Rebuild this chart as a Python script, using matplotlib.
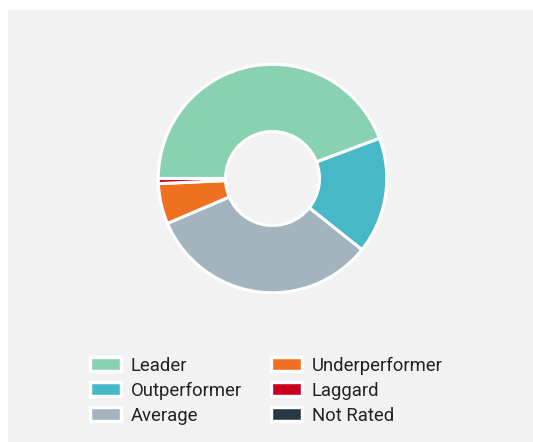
import matplotlib
matplotlib.use('Agg')
import matplotlib.pyplot as plt
from matplotlib.patches import Rectangle

## -- data
labels = ["Leader", "Outperformer", "Average", "Underperformer", "Laggard", "Not Rated"]
counts = [62, 23, 46, 8, 1, 0]
colors = ["#88d1b1", "#47b8c8", "#a3b4bf", "#f07022", "#c8001e", "#263840"]

W, H = 533, 442
fig = plt.figure(figsize=(W / 100, H / 100), dpi=100)
fig.patch.set_facecolor("white")

# gray panel behind everything
fig.patches.append(Rectangle((8 / W, 0), 1, 1 - 10 / H, transform=fig.transFigure,
                             facecolor="#f2f2f2", edgecolor="none", zorder=-1))

# donut: center (272.5, 178.5) px, radius 116 px
cx, cy, r = 272.5, 178.5, 116
ax = fig.add_axes([(cx - r) / W, (H - cy - r) / H, 2 * r / W, 2 * r / H])
ax.set_facecolor("none")
wedges, _ = ax.pie(counts, colors=colors, startangle=180, counterclock=False,
                   radius=0.985,
                   wedgeprops=dict(width=0.58, edgecolor="white", linewidth=2.2))
for w in wedges:
    w.set_clip_on(False)
ax.set_xlim(-1, 1)
ax.set_ylim(-1, 1)
ax.set_aspect("equal")
ax.axis("off")

## -- legend
plt.rcParams["font.family"] = ["Roboto", "DejaVu Sans"]
handles = [Rectangle((0, 0), 1, 1, facecolor=c, edgecolor="white", linewidth=2.45)
           for c in colors]
fs = 13.3
leg = fig.legend(handles, labels, ncol=2,
                 loc="upper left", bbox_to_anchor=(90.3 / W, 1 - 356.5 / H),
                 frameon=False, fontsize=fs, borderpad=0, borderaxespad=0,
                 handlelength=1.65, handleheight=0.77, handletextpad=0.54,
                 columnspacing=1.6, labelspacing=0.38)
for t in leg.get_texts():
    t.set_color("#222222")

plt.savefig("out.png", dpi=100)
